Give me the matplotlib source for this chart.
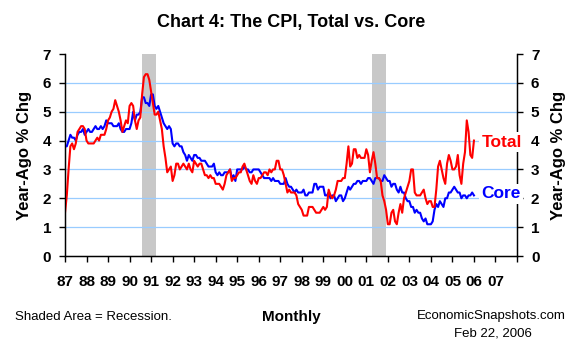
import matplotlib
matplotlib.use("Agg")
import numpy as np
from matplotlib import pyplot as plt

plt.rcParams['font.family'] = ['Liberation Sans', 'DejaVu Sans']

# monthly year-ago % change, Jan 1987 .. Jan 2006
start_year = 1987
total_cpi = [
    1.5, 2.1, 3.0, 3.8, 3.9, 3.7, 3.9, 4.3, 4.4, 4.5, 4.5, 4.4,  # 1987
    4.0, 3.9, 3.9, 3.9, 3.9, 4.0, 4.1, 4.0, 4.2, 4.2, 4.2, 4.4,  # 1988
    4.7, 4.8, 5.0, 5.1, 5.4, 5.2, 5.0, 4.7, 4.3, 4.5, 4.7, 4.6,  # 1989
    5.2, 5.3, 5.2, 4.7, 4.4, 4.7, 4.8, 5.6, 6.2, 6.3, 6.3, 6.1,  # 1990
    5.7, 5.3, 4.9, 4.9, 5.0, 4.7, 4.4, 3.8, 3.4, 2.9, 3.0, 3.1,  # 1991
    2.6, 2.8, 3.2, 3.2, 3.0, 3.1, 3.2, 3.1, 3.0, 3.2, 3.0, 2.9,  # 1992
    3.3, 3.2, 3.1, 3.2, 3.2, 3.0, 2.8, 2.8, 2.7, 2.8, 2.7, 2.7,  # 1993
    2.5, 2.5, 2.5, 2.4, 2.3, 2.5, 2.8, 2.9, 3.0, 2.6, 2.7, 2.7,  # 1994
    2.8, 2.9, 2.9, 3.1, 3.2, 3.0, 2.8, 2.6, 2.5, 2.8, 2.6, 2.5,  # 1995
    2.7, 2.7, 2.8, 2.9, 2.9, 2.8, 3.0, 2.9, 3.0, 3.0, 3.3, 3.3,  # 1996
    3.0, 3.0, 2.8, 2.5, 2.2, 2.3, 2.2, 2.2, 2.2, 2.1, 1.8, 1.7,  # 1997
    1.6, 1.4, 1.4, 1.4, 1.7, 1.7, 1.7, 1.6, 1.5, 1.5, 1.5, 1.6,  # 1998
    1.7, 1.6, 1.7, 2.3, 2.1, 2.0, 2.1, 2.3, 2.6, 2.6, 2.6, 2.7,  # 1999
    2.7, 3.2, 3.8, 3.1, 3.2, 3.7, 3.7, 3.4, 3.5, 3.4, 3.4, 3.4,  # 2000
    3.7, 3.5, 2.9, 3.3, 3.6, 3.2, 2.7, 2.7, 2.6, 2.1, 1.9, 1.6,  # 2001
    1.1, 1.1, 1.5, 1.6, 1.2, 1.1, 1.5, 1.8, 1.5, 2.0, 2.2, 2.4,  # 2002
    2.6, 3.0, 3.0, 2.2, 2.1, 2.1, 2.1, 2.2, 2.3, 2.0, 1.8, 1.9,  # 2003
    1.9, 1.7, 1.7, 2.3, 3.1, 3.3, 3.0, 2.7, 2.5, 3.2, 3.5, 3.3,  # 2004
    3.0, 3.0, 3.1, 3.5, 2.8, 2.5, 3.2, 3.6, 4.7, 4.3, 3.5, 3.4,  # 2005
    4.0,                                                         # 2006
]
core_cpi = [
    3.8, 3.8, 4.0, 4.2, 4.1, 4.1, 4.0, 4.2, 4.3, 4.3, 4.4, 4.2,  # 1987
    4.3, 4.4, 4.3, 4.3, 4.4, 4.5, 4.4, 4.4, 4.5, 4.4, 4.5, 4.7,  # 1988
    4.6, 4.6, 4.6, 4.5, 4.5, 4.5, 4.6, 4.4, 4.3, 4.3, 4.4, 4.4,  # 1989
    4.4, 4.6, 5.0, 4.7, 4.9, 4.9, 5.0, 5.5, 5.5, 5.3, 5.3, 5.2,  # 1990
    5.6, 5.6, 5.2, 5.1, 5.2, 5.0, 4.8, 4.6, 4.5, 4.4, 4.5, 4.4,  # 1991
    3.9, 3.8, 3.9, 3.9, 3.8, 3.8, 3.6, 3.5, 3.3, 3.5, 3.4, 3.3,  # 1992
    3.5, 3.5, 3.4, 3.4, 3.3, 3.3, 3.3, 3.2, 3.1, 3.1, 3.1, 3.2,  # 1993
    2.9, 2.8, 2.9, 2.8, 2.8, 2.9, 2.9, 2.9, 3.0, 2.7, 2.8, 2.6,  # 1994
    3.0, 3.0, 3.0, 3.0, 3.1, 3.0, 3.0, 2.9, 2.9, 3.0, 3.0, 3.0,  # 1995
    3.0, 2.9, 2.8, 2.7, 2.7, 2.7, 2.7, 2.6, 2.7, 2.6, 2.6, 2.6,  # 1996
    2.5, 2.5, 2.5, 2.7, 2.5, 2.4, 2.4, 2.3, 2.2, 2.3, 2.2, 2.2,  # 1997
    2.2, 2.3, 2.1, 2.1, 2.2, 2.2, 2.2, 2.5, 2.5, 2.3, 2.4, 2.4,  # 1998
    2.4, 2.1, 2.1, 2.2, 2.0, 2.1, 2.1, 1.9, 2.0, 2.1, 2.1, 1.9,  # 1999
    2.0, 2.2, 2.4, 2.3, 2.4, 2.5, 2.5, 2.6, 2.6, 2.5, 2.6, 2.6,  # 2000
    2.6, 2.7, 2.7, 2.6, 2.5, 2.7, 2.7, 2.7, 2.6, 2.6, 2.8, 2.7,  # 2001
    2.6, 2.6, 2.4, 2.5, 2.5, 2.3, 2.2, 2.4, 2.2, 2.2, 2.0, 1.9,  # 2002
    1.9, 1.7, 1.7, 1.5, 1.6, 1.5, 1.5, 1.3, 1.2, 1.3, 1.1, 1.1,  # 2003
    1.1, 1.2, 1.6, 1.8, 1.7, 1.9, 1.8, 1.7, 2.0, 2.0, 2.2, 2.2,  # 2004
    2.3, 2.4, 2.3, 2.2, 2.2, 2.0, 2.1, 2.1, 2.0, 2.1, 2.1, 2.2,  # 2005
    2.1,                                                         # 2006
]
recessions = [(1990.58, 1991.25), (2001.25, 2001.92)]
year_labels = ['87', '88', '89', '90', '91', '92', '93', '94', '95', '96', '97',
               '98', '99', '00', '01', '02', '03', '04', '05', '06', '07']

months = start_year + np.arange(len(total_cpi)) / 12.0

fig = plt.figure(figsize=(5.8, 3.5), dpi=100)
ax = fig.add_axes([65 / 580, 1 - 256 / 350, (517 - 65) / 580, (256 - 54) / 350])

for lo, hi in recessions:
    ax.axvspan(lo, hi, color='#C8C8C8', lw=0, zorder=0)

for v in range(1, 7):
    ax.axhline(v, color='#99CCFF', lw=0.9, zorder=1)

ax.plot(months, core_cpi, color='#0000FF', lw=1.5, zorder=3)
ax.plot(months, total_cpi, color='#FF0000', lw=1.5, zorder=4)

ax.set_xlim(1987, 2008)
ax.set_ylim(0, 7)
ax.set_xticks(np.arange(1987, 2009))
ax.set_xticklabels(year_labels + [''])
ax.set_yticks(range(0, 8))

ax.spines['top'].set_visible(False)
for sp in ['left', 'right', 'bottom']:
    ax.spines[sp].set_linewidth(1.0)

ax.tick_params(axis='x', direction='out', length=4, width=1, pad=10, labelsize=11)
ax.tick_params(axis='y', direction='out', length=4, width=1, pad=6, labelsize=11)
for lab in ax.get_xticklabels() + ax.get_yticklabels():
    lab.set_fontweight('bold')

ax.set_ylabel('Year-Ago % Chg', fontsize=12, fontweight='bold', labelpad=8)

ax2 = ax.twinx()
ax2.set_ylim(0, 7)
ax2.set_yticks(range(0, 8))
ax2.spines['top'].set_visible(False)
ax2.tick_params(axis='y', direction='out', length=4, width=1, pad=6, labelsize=11)
for lab in ax2.get_yticklabels():
    lab.set_fontweight('bold')
ax2.set_ylabel('Year-Ago % Chg', fontsize=12, fontweight='bold', labelpad=8)

ax2.text(2006.35, total_cpi[-1] - 0.05, 'Total', color='#FF0000', fontsize=12.5,
         fontweight='bold', va='center', ha='left', zorder=6,
         bbox=dict(facecolor='white', edgecolor='none', pad=1.5))
ax2.text(2006.35, core_cpi[-1] + 0.05, 'Core', color='#0000FF', fontsize=12.5,
         fontweight='bold', va='center', ha='left', zorder=6,
         bbox=dict(facecolor='white', edgecolor='none', pad=1.5))

fig.text(291 / 580, 1 - 22 / 350, 'Chart 4: The CPI, Total vs. Core', fontsize=13,
         fontweight='bold', ha='center', va='center')
fig.text(15 / 580, 1 - 317 / 350, 'Shaded Area = Recession.', fontsize=9.5,
         ha='left', va='center')
fig.text(291 / 580, 1 - 317 / 350, 'Monthly', fontsize=11, fontweight='bold',
         ha='center', va='center')
fig.text(566 / 580, 1 - 316 / 350, 'EconomicSnapshots.com', fontsize=9.5,
         ha='right', va='center')
fig.text(493 / 580, 1 - 333 / 350, 'Feb 22, 2006', fontsize=9.5,
         ha='center', va='center')

fig.savefig('out.png', dpi=100)
